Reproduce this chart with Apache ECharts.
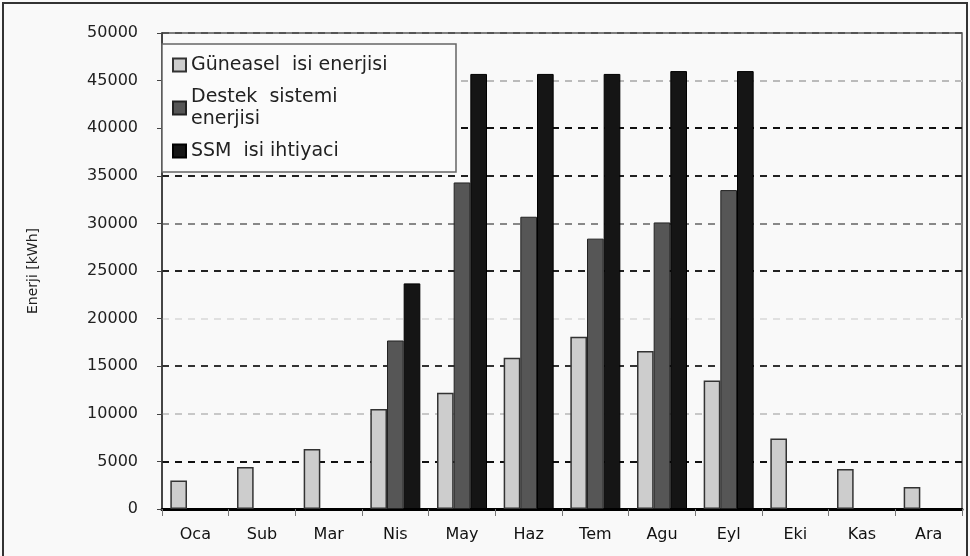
<!DOCTYPE html>
<html>
<head>
<meta charset="utf-8">
<script src="https://cdn.jsdelivr.net/npm/echarts@6/dist/echarts.min.js"></script>
<style>
  html, body { margin: 0; padding: 0; background: #f9f9f9; }
  #chart { width: 970px; height: 556px; }
</style>
</head>
<body>
<div id="chart"></div>
<script>
const months = ['Oca', 'Sub', 'Mar', 'Nis', 'May', 'Haz', 'Tem', 'Agu', 'Eyl', 'Eki', 'Kas', 'Ara'];
const seriesNames = ['Güneasel  isi enerjisi', 'Destek  sistemi\nenerjisi', 'SSM  isi ihtiyaci'];
const solarHeat = [3000, 4400, 6300, 10500, 12200, 15900, 18100, 16600, 13500, 7400, 4200, 2300];
const backupEnergy = [null, null, null, 17700, 34300, 30700, 28400, 30100, 33500, null, null, null];
const heatDemand = [null, null, null, 23700, 45700, 45700, 45700, 46000, 46000, null, null, null];
const yTicks = { min: 0, max: 50000, interval: 5000 };

const chart = echarts.init(document.getElementById('chart'), null, { renderer: 'canvas' });
const font = 'DejaVu Sans, Verdana, sans-serif';

chart.setOption({
  backgroundColor: '#f9f9f9',
  animation: false,
  graphic: [{
    type: 'rect', silent: true, z: 100,
    shape: { x: 3, y: 3, width: 964, height: 600 },
    style: { fill: 'none', stroke: '#333', lineWidth: 2 }
  }],
  grid: {
    left: 162, right: 8, top: 33, bottom: 47,
    show: true, borderColor: '#555', borderWidth: 1.5, backgroundColor: 'transparent'
  },
  legend: {
    orient: 'vertical',
    left: 162, top: 44,
    padding: [10, 10, 10, 10],
    itemGap: 10,
    itemWidth: 13, itemHeight: 13,
    icon: 'rect',
    backgroundColor: '#fbfbfb',
    borderColor: '#666', borderWidth: 1.5,
    textStyle: { fontFamily: font, fontSize: 19, color: '#222', lineHeight: 22, width: 255 },
    data: seriesNames
  },
  xAxis: {
    type: 'category',
    data: months,
    axisLine: { lineStyle: { color: '#000', width: 3 } },
    axisTick: { show: true, length: 7, lineStyle: { color: '#777', width: 1 } },
    axisLabel: { fontFamily: font, fontSize: 16, color: '#111', margin: 18 }
  },
  yAxis: {
    type: 'value',
    min: yTicks.min, max: yTicks.max, interval: yTicks.interval,
    name: 'Enerji [kWh]',
    nameLocation: 'middle',
    nameGap: 122,
    nameRotate: 90,
    nameTextStyle: { fontFamily: font, fontSize: 14, color: '#222' },
    axisLine: { show: true, lineStyle: { color: '#333', width: 1.5 } },
    axisTick: { show: true, length: 5, inside: false, lineStyle: { color: '#444' } },
    axisLabel: { fontFamily: font, fontSize: 16, color: '#222', margin: 24, formatter: v => String(v) },
    splitLine: {
      show: true,
      lineStyle: {
        type: [7, 6],
        width: 1.8,
        color: ['#000', '#111', '#c8c8c8', '#333', '#e0e0e0', '#222', '#888', '#222', '#111', '#bbb', '#555']
      }
    }
  },
  series: [
    {
      name: seriesNames[0], type: 'bar', data: solarHeat,
      barGap: '0%', barCategoryGap: '25%',
      itemStyle: { color: '#cdcdcd', borderColor: '#333', borderWidth: 1.5 }
    },
    {
      name: seriesNames[1], type: 'bar', data: backupEnergy,
      barGap: '0%', barCategoryGap: '25%',
      itemStyle: { color: '#565656', borderColor: '#222', borderWidth: 1 }
    },
    {
      name: seriesNames[2], type: 'bar', data: heatDemand,
      barGap: '0%', barCategoryGap: '25%',
      itemStyle: { color: '#151515', borderColor: '#000', borderWidth: 1 }
    }
  ]
});
</script>
</body>
</html>
